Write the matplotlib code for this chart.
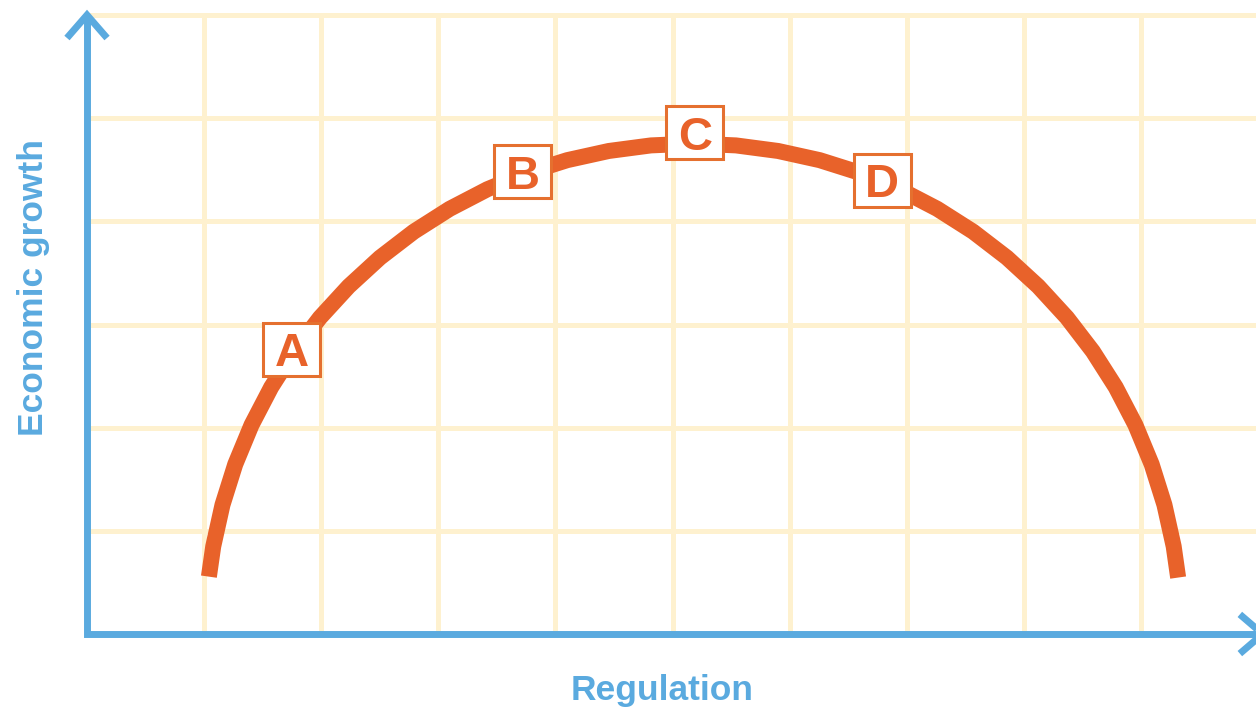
import matplotlib
matplotlib.use("Agg")
import matplotlib.pyplot as plt
from matplotlib.patches import Rectangle

# curve (regulation vs economic growth, in grid units)
growth_x = [1.041, 1.078, 1.157, 1.266, 1.405, 1.573, 1.768, 1.989, 2.235, 2.502, 2.791,
            3.097, 3.419, 3.755, 4.101, 4.456, 4.816, 5.179, 5.542, 5.902, 6.257, 6.603,
            6.939, 7.261, 7.567, 7.856, 8.123, 8.369, 8.590, 8.785, 8.953, 9.092, 9.201,
            9.280, 9.318]
growth_y = [0.556, 0.849, 1.252, 1.645, 2.026, 2.392, 2.739, 3.066, 3.370, 3.648, 3.900,
            4.121, 4.311, 4.469, 4.593, 4.682, 4.736, 4.754, 4.736, 4.682, 4.593, 4.469,
            4.311, 4.121, 3.900, 3.648, 3.370, 3.066, 2.739, 2.392, 2.026, 1.645, 1.252,
            0.849, 0.547]

point_labels = ["A", "B", "C", "D"]
point_x = [1.75, 3.72, 5.19, 6.79]
point_y = [2.76, 4.48, 4.86, 4.40]

grid_x = [1, 2, 3, 4, 5, 6, 7, 8, 9, 10]
grid_y = [1, 2, 3, 4, 5, 6]

blue = "#5AAADF"
orange = "#E8622A"
grid_col = "#FEF1CF"

fig = plt.figure(figsize=(12.56, 7.13), dpi=100)
ax = fig.add_axes([87 / 1256, 79 / 713, 1171 / 1256, 619 / 713])
ax.set_xlim(0, 10)
ax.set_ylim(0, 6)
ax.axis("off")

# grid
for gx in grid_x:
    ax.plot([gx, gx], [0, 6], color=grid_col, lw=3.6, clip_on=False, zorder=1)
for gy in grid_y:
    ax.plot([0, 10], [gy, gy], color=grid_col, lw=3.6, clip_on=False, zorder=1)

# axes with arrow heads
ax.plot([0, 0, 10.04], [6, 0, 0], color=blue, lw=5, clip_on=False,
        solid_joinstyle="miter", solid_capstyle="butt", zorder=3)
ax.plot([-0.171, 0, 0.171], [5.777, 6, 5.777], color=blue, lw=5, clip_on=False,
        solid_joinstyle="miter", solid_capstyle="butt", zorder=3)
ax.plot([9.845, 10.04, 9.845], [0.19, 0, -0.19], color=blue, lw=5, clip_on=False,
        solid_joinstyle="miter", solid_capstyle="butt", zorder=3)

# the curve
ax.plot(growth_x, growth_y, color=orange, lw=11.5, solid_capstyle="butt",
        solid_joinstyle="round", zorder=4)

# boxed letters
bw, bh = 0.487, 0.514
for lab, px, py in zip(point_labels, point_x, point_y):
    ax.add_patch(Rectangle((px - bw / 2, py - bh / 2), bw, bh, facecolor="white",
                           edgecolor="#E5702F", lw=2.2, zorder=5))
    ax.annotate(lab, xy=(px, py), xytext=(0, -12.2), textcoords="offset points",
                ha="center", va="baseline", fontsize=34, color=orange,
                fontweight="bold", family="Liberation Sans", zorder=6)

fig.text(43 / 1256, 1 - 288 / 713, "Economic growth", rotation=90, rotation_mode="anchor",
         ha="center", va="baseline", fontsize=25.5, fontweight="bold", color=blue,
         family="Liberation Sans")
fig.text(662 / 1256, 1 - 700 / 713, "Regulation", ha="center", va="baseline",
         fontsize=25.5, fontweight="bold", color=blue, family="Liberation Sans")

fig.savefig("out.png", dpi=100, facecolor="white")
